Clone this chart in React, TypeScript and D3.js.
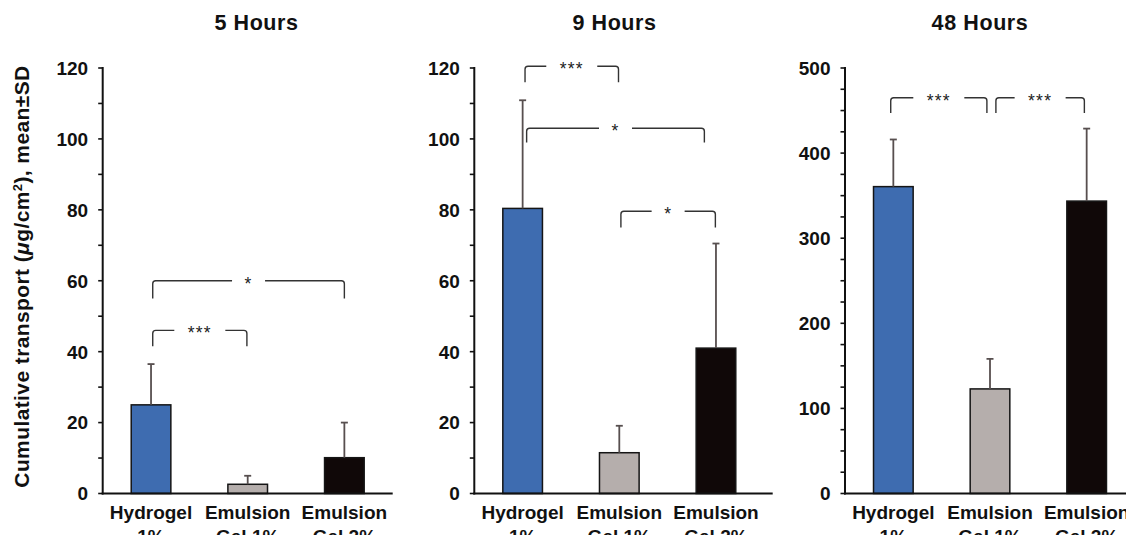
import * as d3 from "d3";
import React from "react";

const categories = ["Hydrogel 1%", "Emulsion Gel 1%", "Emulsion Gel 2%"];
const categoryLines = [["Hydrogel", "1%"], ["Emulsion", "Gel 1%"], ["Emulsion", "Gel 2%"]];
const barColors = ["#3e6cb0", "#b5aeac", "#100808"];

const panelTitles = ["5 Hours", "9 Hours", "48 Hours"];
const means5h = [25.0, 2.6, 10.1];
const sd5h = [11.5, 2.4, 9.9];
const means9h = [80.4, 11.5, 41.0];
const sd9h = [30.5, 7.6, 29.5];
const means48h = [360.6, 122.9, 343.6];
const sd48h = [55.4, 35.3, 85.2];
const yMaxes = [120, 120, 500];
const yMajorSteps = [20, 20, 100];
const yMinorSteps = [10, 10, 25];

// significance brackets (from/to = category index, top/leg in data units)
const brackets5h = [
  { from: 0, to: 2, top: 60, leg: 55, label: "*" },
  { from: 0, to: 1, top: 46, leg: 41.5, label: "***" },
];
const brackets9h = [
  { from: 0, to: 1, top: 120.5, leg: 116, label: "***" },
  { from: 0, to: 2, top: 103, leg: 99, label: "*" },
  { from: 1, to: 2, top: 79.6, leg: 75, label: "*" },
];
const brackets48h = [
  { from: 0, to: 1, top: 465, leg: 447, label: "***" },
  { from: 1, to: 2, top: 465, leg: 447, label: "***" },
];

const allMeans = [means5h, means9h, means48h];
const allSds = [sd5h, sd9h, sd48h];
const allBrackets = [brackets5h, brackets9h, brackets48h];

// layout
const WIDTH = 1126;
const HEIGHT = 535;
const TOP = 68;
const BOTTOM = 493.5;
const AXIS_X = [102.7, 474.3, 845];
const AXIS_END = [392.7, 772.7, 1126];
const TITLE_X = [256.5, 614.5, 980];
// small px nudges of bracket ends, as in the original figure
const BRACKET_NUDGE = [
  [[1.7, 0], [1.7, -0.8]],
  [[2.4, -0.8], [4, -11.6], [1.6, -0.6]],
  [[-2.6, -3.1], [5.9, -2.3]],
];
const FONT = "'Liberation Sans', Arial, Helvetica, sans-serif";
const ERR_COLOR = "#574f4f";
const BRACKET_COLOR = "#333";

function Panel({ idx }: { idx: number }) {
  const ax = AXIS_X[idx];
  const means = allMeans[idx];
  const sds = allSds[idx];
  const yMax = yMaxes[idx];

  const x = d3
    .scaleBand()
    .domain(categories)
    .range([ax, ax + 290])
    .paddingInner(0.59)
    .paddingOuter(0.295);

  const y = d3.scaleLinear().domain([0, yMax]).range([BOTTOM, TOP]);

  const minorTicks = d3.range(0, yMax + 1e-9, yMinorSteps[idx]);
  const majorTicks = d3.range(0, yMax + 1e-9, yMajorSteps[idx]);
  const cx = (i: number) => (x(categories[i]) as number) + x.bandwidth() / 2;

  return (
    <g>
      {/* title */}
      <text
        x={TITLE_X[idx]}
        y={30}
        textAnchor="middle"
        fontSize={21.5}
        fontWeight="bold"
        letterSpacing={0.6}
        fill="#111"
      >
        {panelTitles[idx]}
      </text>

      {/* bars */}
      {categories.map((c, i) => (
        <rect
          key={c}
          x={x(c)}
          y={y(means[i])}
          width={x.bandwidth()}
          height={BOTTOM - y(means[i])}
          fill={barColors[i]}
          stroke="#151515"
          strokeWidth={1.5}
        />
      ))}

      {/* error bars (upper only) */}
      {categories.map((c, i) => {
        const xc = cx(i);
        const y0 = y(means[i]);
        const y1 = y(means[i] + sds[i]);
        return (
          <g key={c} stroke={ERR_COLOR} strokeWidth={1.8}>
            <line x1={xc} x2={xc} y1={y0} y2={y1} />
            <line x1={xc - 3.5} x2={xc + 3.5} y1={y1} y2={y1} />
          </g>
        );
      })}

      {/* y axis */}
      <g>
        {minorTicks.map((t) => (
          <line key={t} x1={ax - 4.5} x2={ax} y1={y(t)} y2={y(t)} stroke="#111" strokeWidth={1.6} />
        ))}
        {majorTicks.map((t) => (
          <text
            key={t}
            x={ax - 14.5}
            y={y(t)}
            dy="0.36em"
            textAnchor="end"
            fontSize={19}
            fontWeight="bold"
            fill="#111"
          >
            {t}
          </text>
        ))}
        <line x1={ax} x2={ax} y1={TOP - 1} y2={BOTTOM + 1} stroke="#111" strokeWidth={2} />
      </g>

      {/* x axis */}
      <line x1={ax - 1} x2={AXIS_END[idx]} y1={BOTTOM} y2={BOTTOM} stroke="#111" strokeWidth={2.2} />
      {categories.map((c, i) => (
        <text
          key={c}
          x={cx(i)}
          y={518.5}
          textAnchor="middle"
          fontSize={19}
          fontWeight="bold"
          fill="#111"
        >
          <tspan x={cx(i)}>{categoryLines[i][0]}</tspan>
          <tspan x={cx(i)} dy={24.5}>{categoryLines[i][1]}</tspan>
        </text>
      ))}

      {/* significance brackets */}
      {allBrackets[idx].map((b, k) => {
        const [n1, n2] = BRACKET_NUDGE[idx][k];
        const x1 = cx(b.from) + n1;
        const x2 = cx(b.to) + n2;
        const yt = y(b.top);
        const yl = y(b.leg);
        const mid = (x1 + x2) / 2;
        const half = 12 + 4.5 * b.label.length;
        const r = 3;
        const d =
          `M${x1},${yl} L${x1},${yt + r} Q${x1},${yt} ${x1 + r},${yt} L${mid - half},${yt} ` +
          `M${mid + half},${yt} L${x2 - r},${yt} Q${x2},${yt} ${x2},${yt + r} L${x2},${yl}`;
        return (
          <g key={k}>
            <path d={d} fill="none" stroke={BRACKET_COLOR} strokeWidth={1.4} />
            <text
              x={mid}
              y={yt + 9}
              textAnchor="middle"
              fontSize={17.5}
              letterSpacing={1.2}
              fill="#222"
            >
              {b.label}
            </text>
          </g>
        );
      })}
    </g>
  );
}

export default function App() {
  return (
    <svg
      width={WIDTH}
      height={HEIGHT}
      style={{ position: "absolute", left: 0, top: 0, background: "#fff" }}
      fontFamily={FONT}
    >
      <rect width={WIDTH} height={HEIGHT} fill="#fff" />
      <text
        transform="translate(29.3,276.5) rotate(-90)"
        textAnchor="middle"
        fontSize={21}
        fontWeight="bold"
        letterSpacing={0.4}
        fill="#111"
      >
        Cumulative transport (<tspan fontStyle="italic">μ</tspan>g/cm
        <tspan dy={-7} fontSize={13}>2</tspan>
        <tspan dy={7}>), mean±SD</tspan>
      </text>
      {panelTitles.map((t, i) => (
        <Panel key={t} idx={i} />
      ))}
    </svg>
  );
}
